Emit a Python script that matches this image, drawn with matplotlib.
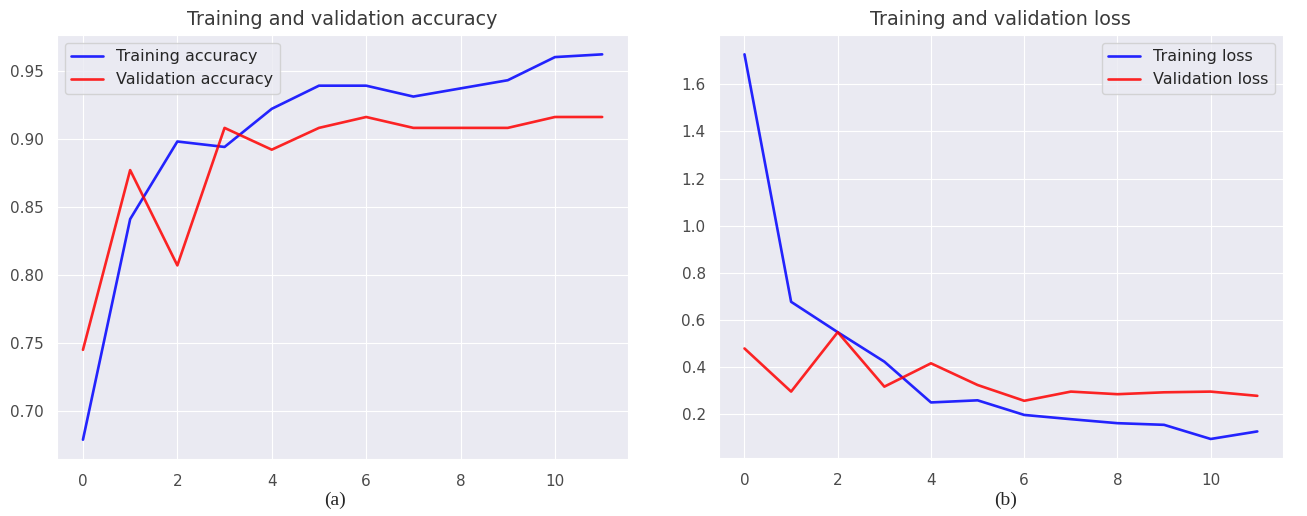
import numpy as np
import matplotlib
matplotlib.use("Agg")
import matplotlib.pyplot as plt
import seaborn as sns

sns.set_style("darkgrid")
plt.rcParams['font.family'] = ['DejaVu Sans']

epochs = list(range(12))

# accuracy per epoch
train_acc = [0.679, 0.841, 0.898, 0.894, 0.922, 0.939, 0.939, 0.931, 0.937, 0.943, 0.960, 0.962]
val_acc = [0.745, 0.877, 0.807, 0.908, 0.892, 0.908, 0.916, 0.908, 0.908, 0.908, 0.916, 0.916]

# loss per epoch
train_loss = [1.727, 0.677, 0.548, 0.423, 0.250, 0.259, 0.197, 0.179, 0.162, 0.155, 0.095, 0.127]
val_loss = [0.479, 0.296, 0.548, 0.317, 0.416, 0.324, 0.257, 0.296, 0.285, 0.293, 0.296, 0.278]

fig = plt.figure(figsize=(13.07, 5.16), dpi=100)
ax1 = fig.add_axes([0.0436, 0.1105, 0.437, 0.8215])
ax2 = fig.add_axes([0.550, 0.112, 0.4316, 0.820])

ax1.plot(epochs, train_acc, color='blue', lw=1.9, alpha=0.85, label='Training accuracy')
ax1.plot(epochs, val_acc, color='red', lw=1.9, alpha=0.85, label='Validation accuracy')
ax1.set_title('Training and validation accuracy', fontsize=13.8, color='#3a3a3a', pad=7)
ax1.legend(loc='upper left', fontsize=11.5)

ax2.plot(epochs, train_loss, color='blue', lw=1.9, alpha=0.85, label='Training loss')
ax2.plot(epochs, val_loss, color='red', lw=1.9, alpha=0.85, label='Validation loss')
ax2.set_title('Training and validation loss', fontsize=13.8, color='#3a3a3a', pad=7)
ax2.legend(loc='upper right', fontsize=11.5)

for ax in (ax1, ax2):
    ax.set_xticks([0, 2, 4, 6, 8, 10])
    ax.tick_params(labelsize=11, labelcolor='#4a4a4a')
    ax.tick_params(axis='x', pad=7)
    ax.tick_params(axis='y', pad=6)

ax2.set_yticks([0.2, 0.4, 0.6, 0.8, 1.0, 1.2, 1.4, 1.6])

# sub-figure captions
fig.text(0.2563, 0.03, '(a)', ha='center', va='center', fontsize=14, family='Liberation Serif')
fig.text(0.7697, 0.03, '(b)', ha='center', va='center', fontsize=14, family='Liberation Serif')

fig.savefig('out.png', dpi=100)
